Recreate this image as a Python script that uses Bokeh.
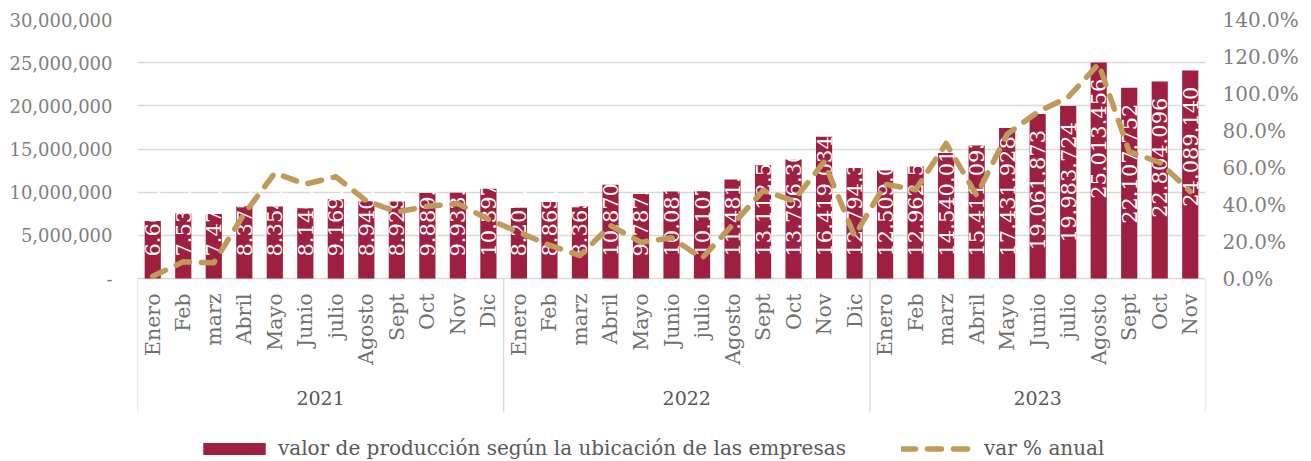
import math
from bokeh.plotting import figure
from bokeh.models import (Range1d, LinearAxis, FixedTicker, NumeralTickFormatter,
                          Legend, LegendItem, ColumnDataSource)
from bokeh.embed import file_html
from bokeh.resources import INLINE
from bokeh.core.properties import value

# ---------------- data ----------------
years = ["2021", "2022", "2023"]
months_2021 = ["Enero", "Feb", "marz", "Abril", "Mayo", "Junio", "julio", "Agosto", "Sept", "Oct", "Nov", "Dic"]
months_2022 = ["Enero", "Feb", "marz", "Abril", "Mayo", "Junio", "julio", "Agosto", "Sept", "Oct", "Nov", "Dic"]
months_2023 = ["Enero", "Feb", "marz", "Abril", "Mayo", "Junio", "julio", "Agosto", "Sept", "Oct", "Nov"]

produccion_2021 = [6663215, 7534812, 7471309, 8375604, 8354218, 8146735,
                   9169420, 8940157, 8929883, 9889301, 9933562, 10397148]
produccion_2022 = [8207436, 8869215, 8365904, 10870512, 9787163, 10081627,
                   10107384, 11481259, 13112541, 13796305, 16419034, 12794318]
produccion_2023 = [12509027, 12962514, 14540018, 15411093, 17431928, 19061873,
                   19983724, 25013456, 22107752, 22804096, 24089140]

# var % anual (percent)
var_2021 = [1.2, 9.0, 8.5, 35.0, 57.0, 51.0, 55.0, 42.0, 36.0, 39.0, 40.5, 32.0]
var_2022 = [25.0, 18.0, 12.4, 28.6, 19.5, 22.0, 11.0, 29.0, 47.5, 42.0, 63.0, 23.0]
var_2023 = [51.0, 48.0, 73.0, 45.0, 78.0, 90.0, 98.0, 116.0, 68.6, 62.7, 47.0]

left_ticks = [0, 5000000, 10000000, 15000000, 20000000, 25000000, 30000000]
right_ticks = [0.0, 0.2, 0.4, 0.6, 0.8, 1.0, 1.2, 1.4]

series_name_bar = "valor de producción según la ubicación de las empresas"
series_name_line = "var % anual"

# ---------------- build ----------------
month_lists = [months_2021, months_2022, months_2023]
prod_lists = [produccion_2021, produccion_2022, produccion_2023]
var_lists = [var_2021, var_2022, var_2023]

month_names, prod, var = [], [], []
for ms, ps, vs in zip(month_lists, prod_lists, var_lists):
    month_names += ms
    prod += ps
    var += [v / 100.0 for v in vs]

n_total = len(prod)
# each category occupies 2 units on the x scale; category i is centred at 2*i+1
xpos = [2 * i + 1 for i in range(n_total)]
labels = [f"{v:,}".replace(",", ".") for v in prod]

counts = [len(m) for m in month_lists]
bounds = [0]
for c in counts:
    bounds.append(bounds[-1] + 2 * c)
centers = [(bounds[i] + bounds[i + 1]) / 2 for i in range(len(counts))]

FONT = "DejaVu Serif"
BAR = "#9E1F40"
LINE = "#BF9A5A"
GRID = "#D9D9D9"

# layout (pixels)
W, H = 1311, 461
LEFT, RIGHT, TOP = 137, 106, 19
VAL_PX = 259                      # height of the 0..max value band
BELOW_PX = H - TOP - VAL_PX       # band under the zero line (categories + legend)
SEP_PX = 134                      # length of the category separators
YMAX = left_ticks[-1]
PMAX = right_ticks[-1]
y_start = -YMAX * BELOW_PX / VAL_PX
sep_bottom = -YMAX * SEP_PX / VAL_PX

p = figure(width=W, height=H,
           x_range=Range1d(0, 2 * n_total),
           y_range=Range1d(y_start, YMAX),
           output_backend="svg", toolbar_location=None,
           x_axis_location=None,
           min_border_left=LEFT, min_border_right=RIGHT, min_border_top=TOP,
           min_border_bottom=0)
p.outline_line_color = None
p.background_fill_color = "white"
p.border_fill_color = "white"

p.extra_y_ranges = {"pct": Range1d(-PMAX * BELOW_PX / VAL_PX, PMAX)}

src = ColumnDataSource(dict(x=xpos, prod=prod, var=var, lab=labels))

# grid
p.xgrid.grid_line_color = None
p.ygrid.grid_line_color = GRID
p.ygrid.grid_line_width = 1.3
p.ygrid.ticker = FixedTicker(ticks=left_ticks)

# category separators
p.segment(x0=bounds, y0=[0] * len(bounds), x1=bounds, y1=[sep_bottom] * len(bounds),
          line_color=GRID, line_width=1.3)

bars = p.vbar(x="x", top="prod", width=2 * 0.53, source=src, fill_color=BAR, line_color=None)

# bar labels (white, vertical)
thr = 18000000
top_idx = [i for i, v in enumerate(prod) if v >= thr]
base_idx = [i for i, v in enumerate(prod) if v < thr]
src_top = ColumnDataSource(dict(x=[xpos[i] for i in top_idx], y=[prod[i] for i in top_idx],
                                lab=[labels[i] for i in top_idx]))
src_base = ColumnDataSource(dict(x=[xpos[i] for i in base_idx], y=[0] * len(base_idx),
                                 lab=[labels[i] for i in base_idx]))
p.text(x="x", y="y", text="lab", source=src_top, angle=math.pi / 2, text_align="right",
       text_baseline="middle", y_offset=16, text_color="white", text_font=value(FONT),
       text_font_size="21px")
p.text(x="x", y="y", text="lab", source=src_base, angle=math.pi / 2, text_align="left",
       text_baseline="middle", y_offset=-22, text_color="white", text_font=value(FONT),
       text_font_size="21px")

line = p.line(x="x", y="var", source=src, y_range_name="pct", line_color=LINE,
              line_width=5.5, line_dash="14 12", line_cap="round", line_join="round")

# month labels and year labels under the axis
msrc = ColumnDataSource(dict(x=xpos, y=[0] * n_total, t=month_names))
p.text(x="x", y="y", text="t", source=msrc, angle=math.pi / 2, text_align="right",
       text_baseline="middle", y_offset=15, text_color="#707070", text_font=value(FONT),
       text_font_size="20.5px")
ysrc = ColumnDataSource(dict(x=centers, y=[0] * len(centers), t=years))
p.text(x="x", y="y", text="t", source=ysrc, text_align="center", text_baseline="middle",
       y_offset=119, text_color="#595959", text_font=value(FONT), text_font_size="19px")

# left axis
ya = p.yaxis[0]
ya.ticker = FixedTicker(ticks=left_ticks)
ya.formatter = NumeralTickFormatter(format="0,0")
ya.major_label_overrides = {0: "-"}
ya.axis_line_color = None
ya.major_tick_line_color = None
ya.minor_tick_line_color = None
ya.major_tick_out = 0
ya.minor_tick_out = 0
ya.major_label_standoff = 25
ya.major_label_text_font = FONT
ya.major_label_text_font_size = "18px"
ya.major_label_text_color = "#7F7F7F"

# right axis
ra = LinearAxis(y_range_name="pct", ticker=FixedTicker(ticks=right_ticks),
                formatter=NumeralTickFormatter(format="0.0%"))
ra.axis_line_color = None
ra.major_tick_line_color = None
ra.minor_tick_line_color = None
ra.major_tick_out = 0
ra.minor_tick_out = 0
ra.major_label_standoff = 17
ra.major_label_text_font = FONT
ra.major_label_text_font_size = "20px"
ra.major_label_text_color = "#7F7F7F"
p.add_layout(ra, "right")

# legend
legend = Legend(items=[LegendItem(label=series_name_bar, renderers=[bars]),
                       LegendItem(label=series_name_line, renderers=[line])],
                orientation="horizontal", location=(58, 1),
                label_text_font=FONT, label_text_font_size="20px", label_text_color="#595959",
                glyph_width=78, glyph_height=15, label_standoff=5, spacing=55,
                padding=2, margin=0, border_line_color=None, background_fill_alpha=0)
p.add_layout(legend, "center")

open("out.html", "w").write(file_html(p, INLINE))
